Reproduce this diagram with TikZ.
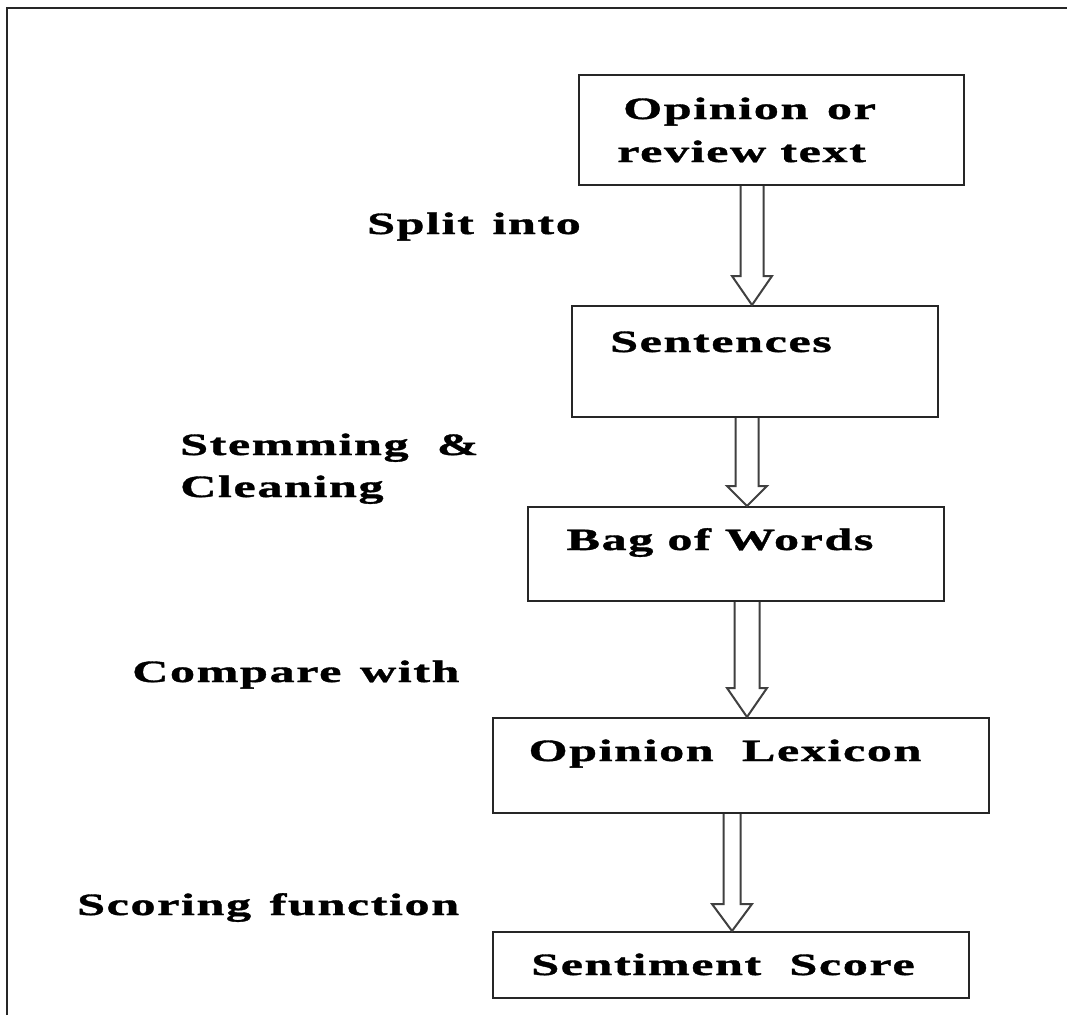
\documentclass[tikz,border=0pt]{standalone}
\usepackage{fontspec}
\usetikzlibrary{calc}
\newfontfamily\wideserif[FakeStretch=1.62,LetterSpace=5,FakeBold=1.2]{Liberation Serif Bold}
\newcommand\wgap{\hspace{0.6em}}

\tikzset{
  frameline/.style={line width=2.5pt, draw=black!85},
  box/.style={draw=black!85, line width=2pt, rectangle, inner sep=0pt, anchor=north west},
  word/.style={inner sep=0pt, font=\wideserif\fontsize{31}{42}\selectfont},
  hollow/.style={draw=black!75, line width=2pt, fill=white, line join=miter},
}

% hollow down arrow: from node, to node, x coordinate, shaft half width, head length
\newcommand\hollowarrow[5]{%
  \draw[hollow]
    ($(#1.south -| #3)+(-#4,0)$) --
    ($(#2.north -| #3)+(-#4,-#5)$) --
    ($(#2.north -| #3)+(-20,-#5)$) --
    (#2.north -| #3) --
    ($(#2.north -| #3)+(20,-#5)$) --
    ($(#2.north -| #3)+(#4,-#5)$) --
    ($(#1.south -| #3)+(#4,0)$);
}

\begin{document}
\begin{tikzpicture}[x=1pt, y=-1pt]
  \useasboundingbox (0,0) rectangle (1067,1015);
  \fill[white] (0,0) rectangle (1067,1015);

  % outer frame (left and top edges)
  \draw[frameline] (7,1015) -- (7,8) -- (1067,8);

  % process boxes
  \node[box, minimum width=385, minimum height=110] (b1) at (578,74) {};
  \node[box, minimum width=366, minimum height=111] (b2) at (571,305) {};
  \node[box, minimum width=416, minimum height=94]  (b3) at (527,506) {};
  \node[box, minimum width=496, minimum height=95]  (b4) at (492,717) {};
  \node[box, minimum width=476, minimum height=66]  (b5) at (492,931) {};

  % box texts
  \node[word, anchor=base west] (t1a) at (623,119) {Opinion\wgap or};
  \node[word, anchor=base west] (t1b) at (617,162) {review text};
  \node[word, anchor=base] (t2) at (721,352) {Sentences};
  \node[word, anchor=base] (t3) at (720,550) {Bag of Words};
  \node[word, anchor=base] (t4) at (725,761) {Opinion\ \ Lexicon};
  \node[word, anchor=base] (t5) at (723,975) {Sentiment\ \ Score};

  % step labels
  \node[word, anchor=base west] (l1) at (367,234) {Split\wgap into};
  \node[word, anchor=base west] (l2a) at (180,455) {Stemming\ \ \&};
  \node[word, anchor=base west] (l2b) at (180,497) {Cleaning};
  \node[word, anchor=base west] (l3) at (132,682) {Compare\wgap with};
  \node[word, anchor=base west] (l4) at (77,915) {Scoring\wgap function};

  % arrow axes
  \coordinate (a1) at (752,0);
  \coordinate (a2) at (747,0);
  \coordinate (a3) at (747,0);
  \coordinate (a4) at (732,0);

  \hollowarrow{b1}{b2}{a1}{11.5}{29}
  \hollowarrow{b2}{b3}{a2}{11.5}{20}
  \hollowarrow{b3}{b4}{a3}{12.5}{29}
  \hollowarrow{b4}{b5}{a4}{8.5}{27}
\end{tikzpicture}
\end{document}
